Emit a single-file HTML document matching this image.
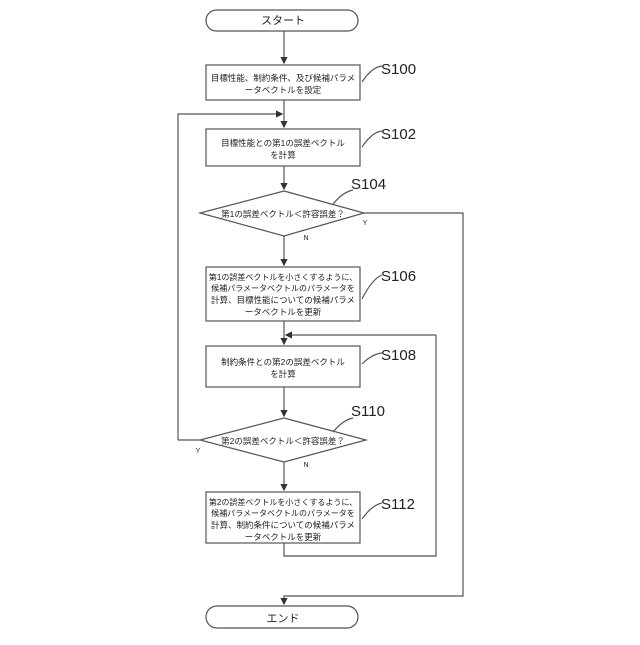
<!DOCTYPE html>
<html><head><meta charset="utf-8"><style>body{margin:0;background:#fff}</style></head><body>
<svg width="640" height="640" xmlns="http://www.w3.org/2000/svg" font-family="'Liberation Sans','Noto Sans CJK JP',sans-serif">
<defs><marker id="a" markerWidth="6" markerHeight="6" refX="5" refY="3" orient="auto"><path d="M0,0L6,3L0,6z" fill="#333"/></marker></defs>
<g fill="none" stroke="#555" stroke-width="1.2">
<rect x="206" y="10" width="152" height="21" rx="10.5"/>
<rect x="206" y="606" width="152" height="22" rx="11"/>
<rect x="206" y="65" width="154" height="35"/>
<rect x="206" y="129" width="154" height="37"/>
<polygon points="284,191 364,213 284,236 200,213"/>
<rect x="206" y="267" width="154" height="54"/>
<rect x="206" y="346" width="154" height="41"/>
<polygon points="284,418 366,440 284,462 200,440"/>
<rect x="206" y="492" width="154" height="51"/>
<path d="M284,31V63" marker-end="url(#a)"/>
<path d="M284,100V127" marker-end="url(#a)"/>
<path d="M178,440V114H282" marker-end="url(#a)"/>
<path d="M200,440H178"/>
<path d="M284,166V189" marker-end="url(#a)"/>
<path d="M284,236V265" marker-end="url(#a)"/>
<path d="M364,213H463V596H284V604" marker-end="url(#a)"/>
<path d="M284,321V344" marker-end="url(#a)"/>
<path d="M436,335H286" marker-end="url(#a)"/>
<path d="M284,543V556H436V335"/>
<path d="M284,387V416" marker-end="url(#a)"/>
<path d="M284,462V490" marker-end="url(#a)"/>
<path d="M362,82q10,-15 20,-16"/>
<path d="M362,147q10,-15 20,-16"/>
<path d="M333,204q10,-12 20,-14"/>
<path d="M362,299q10,-20 20,-24"/>
<path d="M362,364q10,-10 20,-11"/>
<path d="M333,432q10,-12 20,-14"/>
<path d="M362,519q10,-14 20,-16"/>
</g>
<g font-size="15" fill="#222">
<text x="381" y="74">S100</text>
<text x="381" y="139">S102</text>
<text x="351" y="189">S104</text>
<text x="381" y="281">S106</text>
<text x="381" y="360">S108</text>
<text x="351" y="416">S110</text>
<text x="381" y="509">S112</text>
</g>
<g font-size="8.5" fill="#222" text-anchor="middle">
<text x="283" y="24" font-size="11">スタート</text>
<text x="283" y="622" font-size="11">エンド</text>
<text x="283" y="81">目標性能、制約条件、及び候補パラメ</text>
<text x="283" y="93">ータベクトルを設定</text>
<text x="283" y="146">目標性能との第1の誤差ベクトル</text>
<text x="283" y="158">を計算</text>
<text x="283" y="217">第1の誤差ベクトル＜許容誤差？</text>
<text x="283" y="280" font-size="8">第1の誤差ベクトルを小さくするように、</text>
<text x="283" y="291" font-size="8">候補パラメータベクトルのパラメータを</text>
<text x="283" y="303">計算、目標性能についての候補パラメ</text>
<text x="283" y="315">ータベクトルを更新</text>
<text x="283" y="365">制約条件との第2の誤差ベクトル</text>
<text x="283" y="377">を計算</text>
<text x="283" y="444">第2の誤差ベクトル＜許容誤差？</text>
<text x="283" y="505" font-size="8">第2の誤差ベクトルを小さくするように、</text>
<text x="283" y="516" font-size="8">候補パラメータベクトルのパラメータを</text>
<text x="283" y="528">計算、制約条件についての候補パラメ</text>
<text x="283" y="540">ータベクトルを更新</text>
<text x="365" y="225" font-size="7">Y</text>
<text x="306" y="240" font-size="7">N</text>
<text x="198" y="453" font-size="7">Y</text>
<text x="306" y="467" font-size="7">N</text>
</g>
</svg>
</body></html>
